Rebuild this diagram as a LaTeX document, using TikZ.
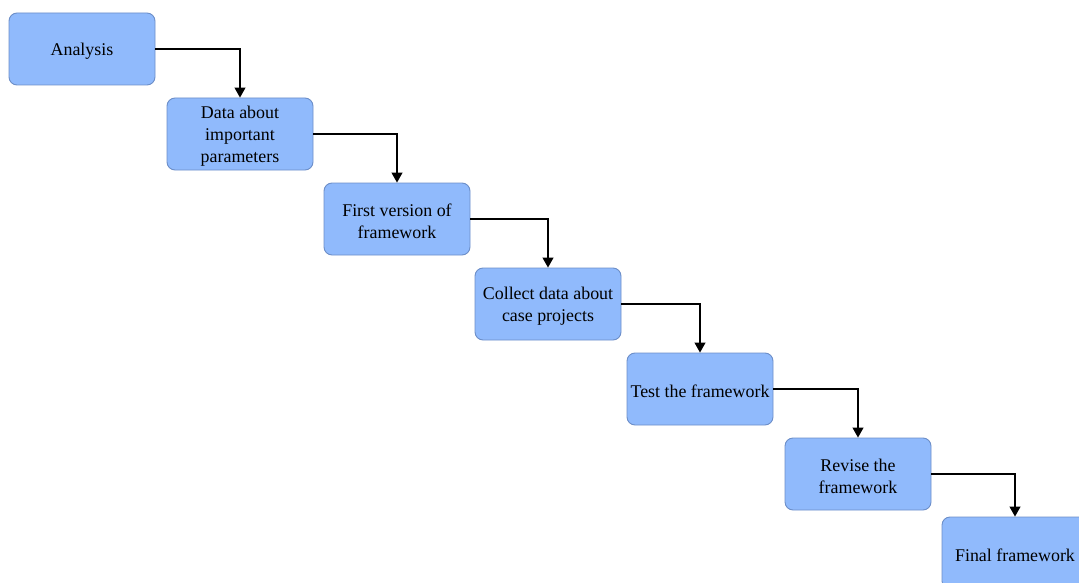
\documentclass[tikz,border=0pt]{standalone}
\usepackage{fontspec}
\setmainfont{Liberation Serif}
\usetikzlibrary{arrows.meta}
\definecolor{boxfill}{RGB}{144,186,252}
\definecolor{boxline}{RGB}{108,142,200}
\tikzset{
  stage/.style={draw=boxline, line width=0.9pt, fill=boxfill, rounded corners=8pt,
    minimum width=146pt, minimum height=72pt, inner sep=0pt},
  caption/.style={align=center, inner sep=0pt, yshift=-2pt,
    font=\fontsize{17.9}{22}\selectfont},
  link/.style={draw=black, line width=1.1pt, -{Triangle[width=11pt,length=10pt]}}
}
\begin{document}
\begin{tikzpicture}[x=1pt,y=-1pt]
  \useasboundingbox (0,0) rectangle (1079,583);
  \clip (0,0) rectangle (1079,583);
  \node[stage, label={[caption]center:Analysis}] (a) at (82,49) {};
  \node[stage, label={[caption]center:{Data about\\important\\parameters}}] (b) at (240,134) {};
  \node[stage, label={[caption]center:{First version of\\framework}}] (c) at (397,219) {};
  \node[stage, label={[caption]center:{Collect data about\\case projects}}] (d) at (548,304) {};
  \node[stage, label={[caption]center:Test the framework}] (e) at (700,389) {};
  \node[stage, label={[caption]center:{Revise the\\framework}}] (f) at (858,474) {};
  \node[stage, label={[caption]center:Final framework}] (g) at (1015,553) {};
  \draw[link] (a.east) -| (b.north);
  \draw[link] (b.east) -| (c.north);
  \draw[link] (c.east) -| (d.north);
  \draw[link] (d.east) -| (e.north);
  \draw[link] (e.east) -| (f.north);
  \draw[link] (f.east) -| (g.north);
\end{tikzpicture}
\end{document}
